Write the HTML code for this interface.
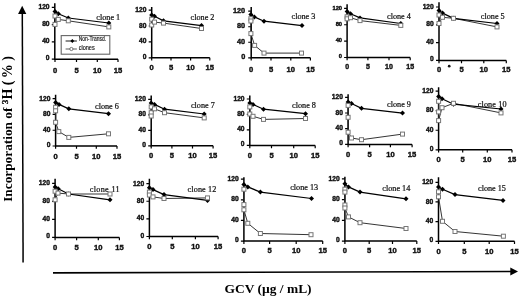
<!DOCTYPE html>
<html><head><meta charset="utf-8"><style>
html,body{margin:0;padding:0;background:#fff;}
svg{display:block;will-change:transform;filter:blur(0.3px);}
.ax{fill:none;stroke:#000;stroke-width:1.5;}
.tk{fill:none;stroke:#000;stroke-width:1.2;}
.tl{font-family:"Liberation Sans",sans-serif;font-weight:bold;font-size:6.7px;fill:#111;stroke:#111;stroke-width:0.4;}
.tx{font-family:"Liberation Sans",sans-serif;font-weight:bold;font-size:7.6px;fill:#111;stroke:#111;stroke-width:0.4;}
.lo{fill:none;stroke:#2a2a2a;stroke-width:0.95;}
.lf{fill:none;stroke:#000;stroke-width:1.25;}
.sq{fill:#fff;stroke:#777;stroke-width:1;}
.dm{fill:#000;}
.cl{font-family:"Liberation Serif",serif;font-size:8.2px;fill:#111;stroke:#111;stroke-width:0.22;}
.cls{font-family:"Liberation Sans",sans-serif;font-size:8.0px;fill:#111;}
.lg{font-family:"Liberation Sans",sans-serif;font-size:6.4px;fill:#111;stroke:#111;stroke-width:0.15;}
.yl{font-family:"Liberation Serif",serif;font-weight:bold;font-size:13.3px;fill:#000;}
.xl{font-family:"Liberation Serif",serif;font-weight:bold;font-size:13.45px;fill:#000;}
</style></head><body>
<svg width="520" height="297" viewBox="0 0 520 297">
<rect width="520" height="297" fill="#fff"/>

<path d="M22.3 12L23.1 262.6" stroke="#000" stroke-width="1.5" fill="none"/>
<path d="M22.2 5.7L26.3 13.9H18.1Z" fill="#000"/>
<path d="M53 272.9L511 271.5" stroke="#000" stroke-width="1.6" fill="none"/>
<path d="M518 271.5L510.3 267.6V275.4Z" fill="#000"/>
<text class="yl" transform="translate(12 201.8) rotate(-90)"><tspan x="0">Incorporation of</tspan><tspan x="97.9" dy="-4" font-size="8.4" stroke="#000" stroke-width="0.3">3</tspan><tspan x="102.2" dy="4" font-size="14">H</tspan><tspan x="116.6" font-size="14">(</tspan><tspan x="123.6" font-size="14">%</tspan><tspan x="141.1" font-size="14">)</tspan></text>
<text class="xl" x="224.6" y="293.3">GCV (&#181;g / mL)</text>
<circle cx="449.2" cy="66.2" r="1.35" fill="#111"/>

<path class="ax" d="M54.8 3.3V59.2H118"/>
<path class="tk" d="M51.8 59.2H54.8M51.8 41.9H54.8M51.8 24.6H54.8M51.8 7.3H54.8M55 59.2V62M76.5 59.2V62M97.3 59.2V62M118 59.2V62"/>
<text class="tl" x="49.6" y="60.2" text-anchor="end">0</text>
<text class="tl" x="49.6" y="43.2" text-anchor="end">40</text>
<text class="tl" x="49.6" y="26.2" text-anchor="end">80</text>
<text class="tl" x="49.6" y="9.2" text-anchor="end">120</text>
<text class="tx" x="55" y="72.6" text-anchor="middle">0</text>
<text class="tx" x="76.5" y="72.6" text-anchor="middle">5</text>
<text class="tx" x="97.3" y="72.6" text-anchor="middle">10</text>
<text class="tx" x="118" y="72.6" text-anchor="middle">15</text>
<polyline class="lo" points="55,16 55,24.4 58.3,19.4 68.3,20.8 108.8,26.9"/>
<polyline class="lf" points="55,11.5 58.3,13.8 68.3,18 108.8,23"/>
<path class="dm" d="M55 9l2.5 2.5 -2.5 2.5 -2.5 -2.5z"/>
<path class="dm" d="M58.3 11.3l2.5 2.5 -2.5 2.5 -2.5 -2.5z"/>
<path class="dm" d="M68.3 15.5l2.5 2.5 -2.5 2.5 -2.5 -2.5z"/>
<path class="dm" d="M108.8 20.5l2.5 2.5 -2.5 2.5 -2.5 -2.5z"/>
<rect class="sq" x="53" y="14" width="4" height="4"/>
<rect class="sq" x="53" y="22.4" width="4" height="4"/>
<rect class="sq" x="56.3" y="17.4" width="4" height="4"/>
<rect class="sq" x="66.3" y="18.8" width="4" height="4"/>
<rect class="sq" x="106.8" y="24.9" width="4" height="4"/>
<text class="cl" x="96.3" y="19.7">clone 1</text>
<path class="ax" d="M151.7 7V57.8H209.8"/>
<path class="tk" d="M148.7 57.8H151.7M148.7 41.9H151.7M148.7 26H151.7M148.7 10.1H151.7M151.7 57.8V60.6M171 57.8V60.6M190.6 57.8V60.6M209.8 57.8V60.6"/>
<text class="tl" x="146.5" y="58.8" text-anchor="end">0</text>
<text class="tl" x="146.5" y="43.2" text-anchor="end">40</text>
<text class="tl" x="146.5" y="27.6" text-anchor="end">80</text>
<text class="tl" x="146.5" y="12" text-anchor="end">120</text>
<text class="tx" x="151.7" y="70" text-anchor="middle">0</text>
<text class="tx" x="171" y="70" text-anchor="middle">5</text>
<text class="tx" x="190.6" y="70" text-anchor="middle">10</text>
<text class="tx" x="209.8" y="70" text-anchor="middle">15</text>
<polyline class="lo" points="151.7,19.2 151.7,25 154.5,22.1 163.5,23.1 201.5,28.5"/>
<polyline class="lf" points="151.7,15 154.5,16.3 163.5,20.8 201.5,25.6"/>
<path class="dm" d="M151.7 12.5l2.5 2.5 -2.5 2.5 -2.5 -2.5z"/>
<path class="dm" d="M154.5 13.8l2.5 2.5 -2.5 2.5 -2.5 -2.5z"/>
<path class="dm" d="M163.5 18.3l2.5 2.5 -2.5 2.5 -2.5 -2.5z"/>
<path class="dm" d="M201.5 23.1l2.5 2.5 -2.5 2.5 -2.5 -2.5z"/>
<rect class="sq" x="149.7" y="17.2" width="4" height="4"/>
<rect class="sq" x="149.7" y="23" width="4" height="4"/>
<rect class="sq" x="152.5" y="20.1" width="4" height="4"/>
<rect class="sq" x="161.5" y="21.1" width="4" height="4"/>
<rect class="sq" x="199.5" y="26.5" width="4" height="4"/>
<text class="cl" x="190.6" y="19.7">clone 2</text>
<path class="ax" d="M251.2 7V57.8H310.4"/>
<path class="tk" d="M248.2 57.8H251.2M248.2 42.27H251.2M248.2 26.73H251.2M248.2 11.2H251.2M251.2 57.8V60.6M271 57.8V60.6M290.8 57.8V60.6M310.4 57.8V60.6"/>
<text class="tl" x="245.2" y="58.8" text-anchor="end" style="font-size:7.3px">0</text>
<text class="tl" x="245.2" y="43.57" text-anchor="end" style="font-size:7.3px">40</text>
<text class="tl" x="245.2" y="28.33" text-anchor="end" style="font-size:7.3px">80</text>
<text class="tl" x="245.2" y="13.1" text-anchor="end" style="font-size:7.3px">120</text>
<text class="tx" x="251.2" y="71.5" text-anchor="middle">0</text>
<text class="tx" x="271" y="71.5" text-anchor="middle">5</text>
<text class="tx" x="290.8" y="71.5" text-anchor="middle">10</text>
<text class="tx" x="310.4" y="71.5" text-anchor="middle">15</text>
<polyline class="lo" points="250.9,18.7 250.9,21 250.9,33.6 254.6,45.4 264,53.1 301.5,53.1"/>
<polyline class="lf" points="250.9,14.4 254.4,16.9 264,21.2 302,25.6"/>
<path class="dm" d="M250.9 11.9l2.5 2.5 -2.5 2.5 -2.5 -2.5z"/>
<path class="dm" d="M254.4 14.4l2.5 2.5 -2.5 2.5 -2.5 -2.5z"/>
<path class="dm" d="M264 18.7l2.5 2.5 -2.5 2.5 -2.5 -2.5z"/>
<path class="dm" d="M302 23.1l2.5 2.5 -2.5 2.5 -2.5 -2.5z"/>
<rect class="sq" x="248.9" y="16.7" width="4" height="4"/>
<rect class="sq" x="248.9" y="19" width="4" height="4"/>
<rect class="sq" x="248.9" y="31.6" width="4" height="4"/>
<rect class="sq" x="252.6" y="43.4" width="4" height="4"/>
<rect class="sq" x="262" y="51.1" width="4" height="4"/>
<rect class="sq" x="299.5" y="51.1" width="4" height="4"/>
<text class="cl" x="291.5" y="19.2">clone 3</text>
<path class="ax" d="M347.1 4.2V57.5H410.2"/>
<path class="tk" d="M344.1 57.5H347.1M344.1 41.13H347.1M344.1 24.77H347.1M344.1 8.4H347.1M347.1 57.5V60.3M367.9 57.5V60.3M389 57.5V60.3M410.2 57.5V60.3"/>
<text class="tl" x="342.1" y="58.1" text-anchor="end" style="font-size:5.8px">0</text>
<text class="tl" x="342.1" y="42.03" text-anchor="end" style="font-size:5.8px">40</text>
<text class="tl" x="342.1" y="25.97" text-anchor="end" style="font-size:5.8px">80</text>
<text class="tl" x="342.1" y="9.9" text-anchor="end" style="font-size:5.8px">120</text>
<text class="tx" x="347.1" y="69.4" text-anchor="middle" style="font-size:7.0px">0</text>
<text class="tx" x="367.9" y="69.4" text-anchor="middle" style="font-size:7.0px">5</text>
<text class="tx" x="389" y="69.4" text-anchor="middle" style="font-size:7.0px">10</text>
<text class="tx" x="410.2" y="69.4" text-anchor="middle" style="font-size:7.0px">15</text>
<polyline class="lo" points="347.1,16.8 347.1,18.8 350.5,17.7 360,20.6 400.8,25.4"/>
<polyline class="lf" points="347.1,11.5 350.5,13.7 360,17.9 400.8,23.5"/>
<path class="dm" d="M347.1 9l2.5 2.5 -2.5 2.5 -2.5 -2.5z"/>
<path class="dm" d="M350.5 11.2l2.5 2.5 -2.5 2.5 -2.5 -2.5z"/>
<path class="dm" d="M360 15.4l2.5 2.5 -2.5 2.5 -2.5 -2.5z"/>
<path class="dm" d="M400.8 21l2.5 2.5 -2.5 2.5 -2.5 -2.5z"/>
<rect class="sq" x="345.1" y="14.8" width="4" height="4"/>
<rect class="sq" x="345.1" y="16.8" width="4" height="4"/>
<rect class="sq" x="348.5" y="15.7" width="4" height="4"/>
<rect class="sq" x="358" y="18.6" width="4" height="4"/>
<rect class="sq" x="398.8" y="23.4" width="4" height="4"/>
<text class="cl" x="387" y="18.8">clone 4</text>
<path class="ax" d="M439 2.3V60.4H506.3"/>
<path class="tk" d="M436 60.4H439M436 42.6H439M436 24.8H439M436 7H439M439 60.4V63.2M461.5 60.4V63.2M483.8 60.4V63.2M506.3 60.4V63.2"/>
<text class="tl" x="433.8" y="61.4" text-anchor="end">0</text>
<text class="tl" x="433.8" y="43.9" text-anchor="end">40</text>
<text class="tl" x="433.8" y="26.4" text-anchor="end">80</text>
<text class="tl" x="433.8" y="8.9" text-anchor="end">120</text>
<text class="tx" x="439" y="72.2" text-anchor="middle">0</text>
<text class="tx" x="461.5" y="72.2" text-anchor="middle">5</text>
<text class="tx" x="483.8" y="72.2" text-anchor="middle">10</text>
<text class="tx" x="506.3" y="72.2" text-anchor="middle">15</text>
<polyline class="lo" points="439,15 439,23.5 442.5,17.3 453.5,18.3 497,26.9"/>
<polyline class="lf" points="439,10.6 442.5,13.1 453.5,18.3 497,23.5"/>
<path class="dm" d="M439 8.1l2.5 2.5 -2.5 2.5 -2.5 -2.5z"/>
<path class="dm" d="M442.5 10.6l2.5 2.5 -2.5 2.5 -2.5 -2.5z"/>
<path class="dm" d="M453.5 15.8l2.5 2.5 -2.5 2.5 -2.5 -2.5z"/>
<path class="dm" d="M497 21l2.5 2.5 -2.5 2.5 -2.5 -2.5z"/>
<rect class="sq" x="437" y="13" width="4" height="4"/>
<rect class="sq" x="437" y="21.5" width="4" height="4"/>
<rect class="sq" x="440.5" y="15.3" width="4" height="4"/>
<rect class="sq" x="451.5" y="16.3" width="4" height="4"/>
<rect class="sq" x="495" y="24.9" width="4" height="4"/>
<text class="cl" x="480.8" y="18.8">clone 5</text>
<path class="ax" d="M55.6 94.8V146H117"/>
<path class="tk" d="M52.6 146H55.6M52.6 130.23H55.6M52.6 114.47H55.6M52.6 98.7H55.6M55.6 146V148.8M76.5 146V148.8M96.3 146V148.8M117 146V148.8"/>
<text class="tl" x="50.4" y="147" text-anchor="end">0</text>
<text class="tl" x="50.4" y="131.53" text-anchor="end">40</text>
<text class="tl" x="50.4" y="116.07" text-anchor="end">80</text>
<text class="tl" x="50.4" y="100.6" text-anchor="end">120</text>
<text class="tx" x="55.6" y="158.7" text-anchor="middle">0</text>
<text class="tx" x="76.5" y="158.7" text-anchor="middle">5</text>
<text class="tx" x="96.3" y="158.7" text-anchor="middle">10</text>
<text class="tx" x="117" y="158.7" text-anchor="middle">15</text>
<polyline class="lo" points="55.6,107.3 55.6,110.8 55.6,122.3 58.8,131.6 68.8,137.4 108.5,133.8"/>
<polyline class="lf" points="55.6,102.5 59,104.4 68.8,108.8 108.5,113.7"/>
<path class="dm" d="M55.6 100l2.5 2.5 -2.5 2.5 -2.5 -2.5z"/>
<path class="dm" d="M59 101.9l2.5 2.5 -2.5 2.5 -2.5 -2.5z"/>
<path class="dm" d="M68.8 106.3l2.5 2.5 -2.5 2.5 -2.5 -2.5z"/>
<path class="dm" d="M108.5 111.2l2.5 2.5 -2.5 2.5 -2.5 -2.5z"/>
<rect class="sq" x="53.6" y="105.3" width="4" height="4"/>
<rect class="sq" x="53.6" y="108.8" width="4" height="4"/>
<rect class="sq" x="53.6" y="120.3" width="4" height="4"/>
<rect class="sq" x="56.8" y="129.6" width="4" height="4"/>
<rect class="sq" x="66.8" y="135.4" width="4" height="4"/>
<rect class="sq" x="106.5" y="131.8" width="4" height="4"/>
<text class="cl" x="95" y="108.8">clone 6</text>
<path class="ax" d="M151.2 95.4V145.8H213.1"/>
<path class="tk" d="M148.2 145.8H151.2M148.2 130.3H151.2M148.2 114.8H151.2M148.2 99.3H151.2M151.2 145.8V148.6M171.9 145.8V148.6M192.5 145.8V148.6M213.1 145.8V148.6"/>
<text class="tl" x="146" y="146.8" text-anchor="end">0</text>
<text class="tl" x="146" y="131.6" text-anchor="end">40</text>
<text class="tl" x="146" y="116.4" text-anchor="end">80</text>
<text class="tl" x="146" y="101.2" text-anchor="end">120</text>
<text class="tx" x="151.2" y="158.1" text-anchor="middle">0</text>
<text class="tx" x="171.9" y="158.1" text-anchor="middle">5</text>
<text class="tx" x="192.5" y="158.1" text-anchor="middle">10</text>
<text class="tx" x="213.1" y="158.1" text-anchor="middle">15</text>
<polyline class="lo" points="151.2,106.9 151.2,112.7 151.2,116 154.5,108.8 164.5,112.7 204.2,117.9"/>
<polyline class="lf" points="151.2,103.1 154.5,104.4 164.5,109.2 204.2,114"/>
<path class="dm" d="M151.2 100.6l2.5 2.5 -2.5 2.5 -2.5 -2.5z"/>
<path class="dm" d="M154.5 101.9l2.5 2.5 -2.5 2.5 -2.5 -2.5z"/>
<path class="dm" d="M164.5 106.7l2.5 2.5 -2.5 2.5 -2.5 -2.5z"/>
<path class="dm" d="M204.2 111.5l2.5 2.5 -2.5 2.5 -2.5 -2.5z"/>
<rect class="sq" x="149.2" y="104.9" width="4" height="4"/>
<rect class="sq" x="149.2" y="110.7" width="4" height="4"/>
<rect class="sq" x="149.2" y="114" width="4" height="4"/>
<rect class="sq" x="152.5" y="106.8" width="4" height="4"/>
<rect class="sq" x="162.5" y="110.7" width="4" height="4"/>
<rect class="sq" x="202.2" y="115.9" width="4" height="4"/>
<text class="cl" x="190.9" y="108.1">clone 7</text>
<path class="ax" d="M249.8 95.4V145.4H315.2"/>
<path class="tk" d="M246.8 145.4H249.8M246.8 129.93H249.8M246.8 114.47H249.8M246.8 99H249.8M249.8 145.4V148.2M271.5 145.4V148.2M293.7 145.4V148.2M315.2 145.4V148.2"/>
<text class="tl" x="244.6" y="146.4" text-anchor="end">0</text>
<text class="tl" x="244.6" y="131.23" text-anchor="end">40</text>
<text class="tl" x="244.6" y="116.07" text-anchor="end">80</text>
<text class="tl" x="244.6" y="100.9" text-anchor="end">120</text>
<text class="tx" x="249.8" y="158.1" text-anchor="middle">0</text>
<text class="tx" x="271.5" y="158.1" text-anchor="middle">5</text>
<text class="tx" x="293.7" y="158.1" text-anchor="middle">10</text>
<text class="tx" x="315.2" y="158.1" text-anchor="middle">15</text>
<polyline class="lo" points="249.8,106.9 249.8,114 253,116.3 263.5,119.4 305.5,118.5"/>
<polyline class="lf" points="249.8,103.1 253,104.4 263.5,109.2 305.5,113.7"/>
<path class="dm" d="M249.8 100.6l2.5 2.5 -2.5 2.5 -2.5 -2.5z"/>
<path class="dm" d="M253 101.9l2.5 2.5 -2.5 2.5 -2.5 -2.5z"/>
<path class="dm" d="M263.5 106.7l2.5 2.5 -2.5 2.5 -2.5 -2.5z"/>
<path class="dm" d="M305.5 111.2l2.5 2.5 -2.5 2.5 -2.5 -2.5z"/>
<rect class="sq" x="247.8" y="104.9" width="4" height="4"/>
<rect class="sq" x="247.8" y="112" width="4" height="4"/>
<rect class="sq" x="251" y="114.3" width="4" height="4"/>
<rect class="sq" x="261.5" y="117.4" width="4" height="4"/>
<rect class="sq" x="303.5" y="116.5" width="4" height="4"/>
<text class="cl" x="292.1" y="107.8">clone 8</text>
<path class="ax" d="M348.1 94.2V144.4H412.1"/>
<path class="tk" d="M345.1 144.4H348.1M345.1 128.7H348.1M345.1 113H348.1M345.1 97.3H348.1M348.1 144.4V147.2M369.6 144.4V147.2M390.4 144.4V147.2M412.1 144.4V147.2"/>
<text class="tl" x="342.9" y="145.4" text-anchor="end">0</text>
<text class="tl" x="342.9" y="130" text-anchor="end">40</text>
<text class="tl" x="342.9" y="114.6" text-anchor="end">80</text>
<text class="tl" x="342.9" y="99.2" text-anchor="end">120</text>
<text class="tx" x="348.1" y="157.1" text-anchor="middle">0</text>
<text class="tx" x="369.6" y="157.1" text-anchor="middle">5</text>
<text class="tx" x="390.4" y="157.1" text-anchor="middle">10</text>
<text class="tx" x="412.1" y="157.1" text-anchor="middle">15</text>
<polyline class="lo" points="348.1,105.4 348.1,117.3 348.1,132.2 351.5,138 361.5,139.7 402.5,134.1"/>
<polyline class="lf" points="348.1,101.9 351.5,103.5 361.5,108.3 402.5,113.1"/>
<path class="dm" d="M348.1 99.4l2.5 2.5 -2.5 2.5 -2.5 -2.5z"/>
<path class="dm" d="M351.5 101l2.5 2.5 -2.5 2.5 -2.5 -2.5z"/>
<path class="dm" d="M361.5 105.8l2.5 2.5 -2.5 2.5 -2.5 -2.5z"/>
<path class="dm" d="M402.5 110.6l2.5 2.5 -2.5 2.5 -2.5 -2.5z"/>
<rect class="sq" x="346.1" y="103.4" width="4" height="4"/>
<rect class="sq" x="346.1" y="115.3" width="4" height="4"/>
<rect class="sq" x="346.1" y="130.2" width="4" height="4"/>
<rect class="sq" x="349.5" y="136" width="4" height="4"/>
<rect class="sq" x="359.5" y="137.7" width="4" height="4"/>
<rect class="sq" x="400.5" y="132.1" width="4" height="4"/>
<text class="cl" x="387.1" y="107.4">clone 9</text>
<path class="ax" d="M438.6 87.3V149.8H512"/>
<path class="tk" d="M435.6 149.8H438.6M435.6 130.27H438.6M435.6 110.73H438.6M435.6 91.2H438.6M438.6 149.8V152.6M462.7 149.8V152.6M487.3 149.8V152.6M512 149.8V152.6"/>
<text class="tl" x="433.4" y="150.8" text-anchor="end">0</text>
<text class="tl" x="433.4" y="131.57" text-anchor="end">40</text>
<text class="tl" x="433.4" y="112.33" text-anchor="end">80</text>
<text class="tl" x="433.4" y="93.1" text-anchor="end">120</text>
<text class="tx" x="438.6" y="161.7" text-anchor="middle">0</text>
<text class="tx" x="462.7" y="161.7" text-anchor="middle">5</text>
<text class="tx" x="487.3" y="161.7" text-anchor="middle">10</text>
<text class="tx" x="512" y="161.7" text-anchor="middle">15</text>
<polyline class="lo" points="438.6,101.3 438.6,111.9 438.6,120.6 442,107.7 453.5,103.3 501,112.9"/>
<polyline class="lf" points="438.6,96.5 442,98.8 453.5,104.2 501,109"/>
<path class="dm" d="M438.6 94l2.5 2.5 -2.5 2.5 -2.5 -2.5z"/>
<path class="dm" d="M442 96.3l2.5 2.5 -2.5 2.5 -2.5 -2.5z"/>
<path class="dm" d="M453.5 101.7l2.5 2.5 -2.5 2.5 -2.5 -2.5z"/>
<path class="dm" d="M501 106.5l2.5 2.5 -2.5 2.5 -2.5 -2.5z"/>
<rect class="sq" x="436.6" y="99.3" width="4" height="4"/>
<rect class="sq" x="436.6" y="109.9" width="4" height="4"/>
<rect class="sq" x="436.6" y="118.6" width="4" height="4"/>
<rect class="sq" x="440" y="105.7" width="4" height="4"/>
<rect class="sq" x="451.5" y="101.3" width="4" height="4"/>
<rect class="sq" x="499" y="110.9" width="4" height="4"/>
<text class="cl" x="477.8" y="106.7" textLength="28.7">clone 10</text>
<path class="ax" d="M55.1 178.7V237.4H119.4"/>
<path class="tk" d="M52.1 237.4H55.1M52.1 219.37H55.1M52.1 201.33H55.1M52.1 183.3H55.1M55.1 237.4V240.2M76.6 237.4V240.2M98.3 237.4V240.2M119.4 237.4V240.2"/>
<text class="tl" x="49.9" y="238.4" text-anchor="end">0</text>
<text class="tl" x="49.9" y="220.67" text-anchor="end">40</text>
<text class="tl" x="49.9" y="202.93" text-anchor="end">80</text>
<text class="tl" x="49.9" y="185.2" text-anchor="end">120</text>
<text class="tx" x="55.1" y="249.8" text-anchor="middle">0</text>
<text class="tx" x="76.6" y="249.8" text-anchor="middle">5</text>
<text class="tx" x="98.3" y="249.8" text-anchor="middle">10</text>
<text class="tx" x="119.4" y="249.8" text-anchor="middle">15</text>
<polyline class="lo" points="55.1,191.2 55.1,199.8 58,193.1 68.5,194 110,194"/>
<polyline class="lf" points="55.1,186.9 58.2,188.8 68.5,194 110,199.8"/>
<path class="dm" d="M55.1 184.4l2.5 2.5 -2.5 2.5 -2.5 -2.5z"/>
<path class="dm" d="M58.2 186.3l2.5 2.5 -2.5 2.5 -2.5 -2.5z"/>
<path class="dm" d="M68.5 191.5l2.5 2.5 -2.5 2.5 -2.5 -2.5z"/>
<path class="dm" d="M110 197.3l2.5 2.5 -2.5 2.5 -2.5 -2.5z"/>
<rect class="sq" x="53.1" y="189.2" width="4" height="4"/>
<rect class="sq" x="53.1" y="197.8" width="4" height="4"/>
<rect class="sq" x="56" y="191.1" width="4" height="4"/>
<rect class="sq" x="66.5" y="192" width="4" height="4"/>
<rect class="sq" x="108" y="192" width="4" height="4"/>
<text class="cl" x="89.8" y="191.7" textLength="29.8">clone 11</text>
<path class="ax" d="M149.4 178.7V236.5H218.1"/>
<path class="tk" d="M146.4 236.5H149.4M146.4 218.87H149.4M146.4 201.23H149.4M146.4 183.6H149.4M149.4 236.5V239.3M172.3 236.5V239.3M195.4 236.5V239.3M218.1 236.5V239.3"/>
<text class="tl" x="144.2" y="237.5" text-anchor="end">0</text>
<text class="tl" x="144.2" y="220.17" text-anchor="end">40</text>
<text class="tl" x="144.2" y="202.83" text-anchor="end">80</text>
<text class="tl" x="144.2" y="185.5" text-anchor="end">120</text>
<text class="tx" x="149.4" y="249.4" text-anchor="middle">0</text>
<text class="tx" x="172.3" y="249.4" text-anchor="middle">5</text>
<text class="tx" x="195.4" y="249.4" text-anchor="middle">10</text>
<text class="tx" x="218.1" y="249.4" text-anchor="middle">15</text>
<polyline class="lo" points="149.4,192.1 149.4,195 153,196.9 164,198.5 207.5,197.9"/>
<polyline class="lf" points="149.4,187.7 153,189.6 164,194.6 207.5,200.4"/>
<path class="dm" d="M149.4 185.2l2.5 2.5 -2.5 2.5 -2.5 -2.5z"/>
<path class="dm" d="M153 187.1l2.5 2.5 -2.5 2.5 -2.5 -2.5z"/>
<path class="dm" d="M164 192.1l2.5 2.5 -2.5 2.5 -2.5 -2.5z"/>
<path class="dm" d="M207.5 197.9l2.5 2.5 -2.5 2.5 -2.5 -2.5z"/>
<rect class="sq" x="147.4" y="190.1" width="4" height="4"/>
<rect class="sq" x="147.4" y="193" width="4" height="4"/>
<rect class="sq" x="151" y="194.9" width="4" height="4"/>
<rect class="sq" x="162" y="196.5" width="4" height="4"/>
<rect class="sq" x="205.5" y="195.9" width="4" height="4"/>
<text class="cl" x="187.6" y="191.7" textLength="28.7">clone 12</text>
<path class="ax" d="M243.9 177.3V241.1H322.7"/>
<path class="tk" d="M240.9 241.1H243.9M240.9 220.47H243.9M240.9 199.83H243.9M240.9 179.2H243.9M243.9 241.1V243.9M269.6 241.1V243.9M296.2 241.1V243.9M322.7 241.1V243.9"/>
<text class="tl" x="238.7" y="242.1" text-anchor="end">0</text>
<text class="tl" x="238.7" y="221.77" text-anchor="end">40</text>
<text class="tl" x="238.7" y="201.43" text-anchor="end">80</text>
<text class="tl" x="238.7" y="181.1" text-anchor="end">120</text>
<text class="tx" x="243.9" y="253.3" text-anchor="middle">0</text>
<text class="tx" x="269.6" y="253.3" text-anchor="middle">5</text>
<text class="tx" x="296.2" y="253.3" text-anchor="middle">10</text>
<text class="tx" x="322.7" y="253.3" text-anchor="middle">15</text>
<polyline class="lo" points="243.9,189.2 243.9,204.6 243.9,209.8 247.8,223.3 260.4,233.5 311,234.7"/>
<polyline class="lf" points="243.9,184.4 247.8,186.9 260.4,192.1 311.5,198.5"/>
<path class="dm" d="M243.9 181.9l2.5 2.5 -2.5 2.5 -2.5 -2.5z"/>
<path class="dm" d="M247.8 184.4l2.5 2.5 -2.5 2.5 -2.5 -2.5z"/>
<path class="dm" d="M260.4 189.6l2.5 2.5 -2.5 2.5 -2.5 -2.5z"/>
<path class="dm" d="M311.5 196l2.5 2.5 -2.5 2.5 -2.5 -2.5z"/>
<rect class="sq" x="241.9" y="187.2" width="4" height="4"/>
<rect class="sq" x="241.9" y="202.6" width="4" height="4"/>
<rect class="sq" x="241.9" y="207.8" width="4" height="4"/>
<rect class="sq" x="245.8" y="221.3" width="4" height="4"/>
<rect class="sq" x="258.4" y="231.5" width="4" height="4"/>
<rect class="sq" x="309" y="232.7" width="4" height="4"/>
<text class="cl" x="290.2" y="189.7">clone 13</text>
<path class="ax" d="M344.9 176.7V241.1H416.8"/>
<path class="tk" d="M341.9 241.1H344.9M341.9 220.33H344.9M341.9 199.57H344.9M341.9 178.8H344.9M344.9 241.1V243.9M369.2 241.1V243.9M392.5 241.1V243.9M416.8 241.1V243.9"/>
<text class="tl" x="339.7" y="242.1" text-anchor="end">0</text>
<text class="tl" x="339.7" y="221.63" text-anchor="end">40</text>
<text class="tl" x="339.7" y="201.17" text-anchor="end">80</text>
<text class="tl" x="339.7" y="180.7" text-anchor="end">120</text>
<text class="tx" x="344.9" y="253.3" text-anchor="middle">0</text>
<text class="tx" x="369.2" y="253.3" text-anchor="middle">5</text>
<text class="tx" x="392.5" y="253.3" text-anchor="middle">10</text>
<text class="tx" x="416.8" y="253.3" text-anchor="middle">15</text>
<polyline class="lo" points="344.9,189.2 344.9,192.1 344.9,205 344.9,208 348.5,216.9 360,222.7 406,228.5"/>
<polyline class="lf" points="344.9,183.8 348.5,186.9 360,192.1 406,198.8"/>
<path class="dm" d="M344.9 181.3l2.5 2.5 -2.5 2.5 -2.5 -2.5z"/>
<path class="dm" d="M348.5 184.4l2.5 2.5 -2.5 2.5 -2.5 -2.5z"/>
<path class="dm" d="M360 189.6l2.5 2.5 -2.5 2.5 -2.5 -2.5z"/>
<path class="dm" d="M406 196.3l2.5 2.5 -2.5 2.5 -2.5 -2.5z"/>
<rect class="sq" x="342.9" y="187.2" width="4" height="4"/>
<rect class="sq" x="342.9" y="190.1" width="4" height="4"/>
<rect class="sq" x="342.9" y="203" width="4" height="4"/>
<rect class="sq" x="342.9" y="206" width="4" height="4"/>
<rect class="sq" x="346.5" y="214.9" width="4" height="4"/>
<rect class="sq" x="358" y="220.7" width="4" height="4"/>
<rect class="sq" x="404" y="226.5" width="4" height="4"/>
<text class="cl" x="382.3" y="190.7">clone 14</text>
<path class="ax" d="M438.5 177.3V241.3H514.5"/>
<path class="tk" d="M435.5 241.3H438.5M435.5 221.63H438.5M435.5 201.97H438.5M435.5 182.3H438.5M438.5 241.3V244.1M464.3 241.3V244.1M489.2 241.3V244.1M514.5 241.3V244.1"/>
<text class="tl" x="433.3" y="242.3" text-anchor="end">0</text>
<text class="tl" x="433.3" y="222.93" text-anchor="end">40</text>
<text class="tl" x="433.3" y="203.57" text-anchor="end">80</text>
<text class="tl" x="433.3" y="184.2" text-anchor="end">120</text>
<text class="tx" x="438.5" y="253.6" text-anchor="middle">0</text>
<text class="tx" x="464.3" y="253.6" text-anchor="middle">5</text>
<text class="tx" x="489.2" y="253.6" text-anchor="middle">10</text>
<text class="tx" x="514.5" y="253.6" text-anchor="middle">15</text>
<polyline class="lo" points="438.5,191.8 438.5,196.8 442.5,221.3 455,231.5 503.4,236.2"/>
<polyline class="lf" points="438.5,186.9 442.5,189.2 455,194.6 503,200.4"/>
<path class="dm" d="M438.5 184.4l2.5 2.5 -2.5 2.5 -2.5 -2.5z"/>
<path class="dm" d="M442.5 186.7l2.5 2.5 -2.5 2.5 -2.5 -2.5z"/>
<path class="dm" d="M455 192.1l2.5 2.5 -2.5 2.5 -2.5 -2.5z"/>
<path class="dm" d="M503 197.9l2.5 2.5 -2.5 2.5 -2.5 -2.5z"/>
<rect class="sq" x="436.5" y="189.8" width="4" height="4"/>
<rect class="sq" x="436.5" y="194.8" width="4" height="4"/>
<rect class="sq" x="440.5" y="219.3" width="4" height="4"/>
<rect class="sq" x="453" y="229.5" width="4" height="4"/>
<rect class="sq" x="501.4" y="234.2" width="4" height="4"/>
<text class="cl" x="478" y="190.7">clone 15</text>

<rect x="61.2" y="35.6" width="48.6" height="18.6" fill="#fff" stroke="#666" stroke-width="1.1"/>
<path d="M65.6 41H76.9" stroke="#000" stroke-width="0.9"/>
<path d="M72.3 39.1l1.9 1.9 -1.9 1.9 -1.9 -1.9z" fill="#000"/>
<text class="lg" x="78.7" y="41.4" textLength="27.4" lengthAdjust="spacingAndGlyphs">Non-Transd.</text>
<path d="M65.6 49H76.9" stroke="#333" stroke-width="0.8"/>
<circle cx="71.4" cy="49" r="1.6" fill="#fff" stroke="#555" stroke-width="0.8"/>
<text class="lg" x="78.7" y="49.7" textLength="16" lengthAdjust="spacingAndGlyphs">clones</text>

</svg>
</body></html>
